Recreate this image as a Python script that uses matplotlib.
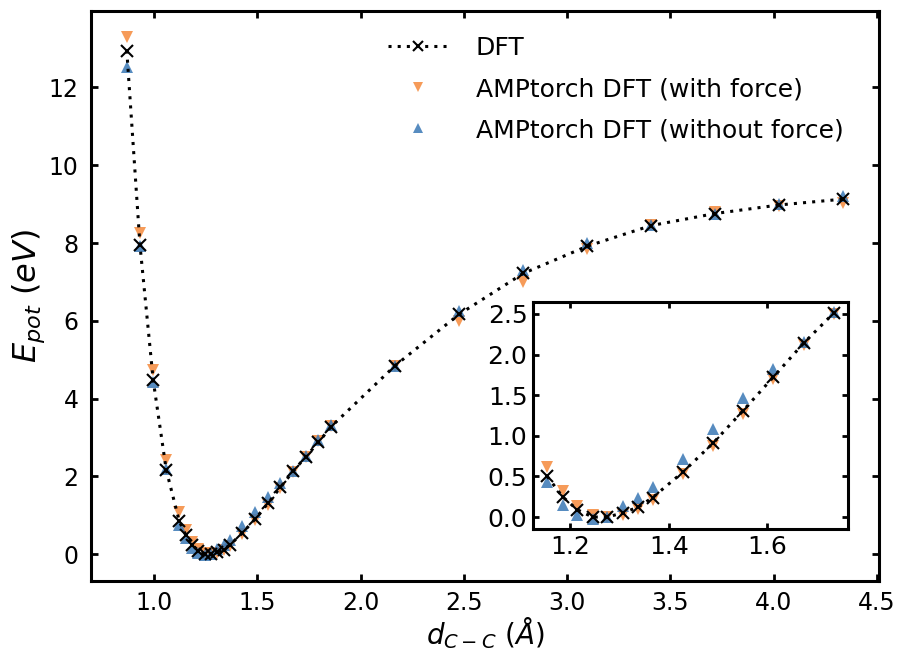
import matplotlib
matplotlib.use("Agg")
import matplotlib.pyplot as plt

plt.rcParams['font.family'] = ['DejaVu Sans']
plt.rcParams['mathtext.fontset'] = 'dejavusans'

# C-C distance (Angstrom) and potential energies (eV)
d_cc = [0.868, 0.932, 0.996, 1.059, 1.122, 1.153, 1.184, 1.214, 1.245, 1.275,
        1.306, 1.337, 1.367, 1.428, 1.490, 1.551, 1.612, 1.674, 1.735, 1.796,
        1.857, 2.167, 2.477, 2.787, 3.097, 3.406, 3.716, 4.026, 4.336]
e_dft = [12.95, 7.94, 4.47, 2.17, 0.85, 0.50, 0.25, 0.09, 0.00, 0.00,
         0.05, 0.12, 0.24, 0.55, 0.91, 1.31, 1.72, 2.14, 2.51, 2.88,
         3.28, 4.85, 6.17, 7.22, 7.92, 8.45, 8.76, 8.98, 9.13]
e_force = [13.30, 8.25, 4.75, 2.42, 1.08, 0.62, 0.32, 0.13, 0.03, 0.00,
           0.03, 0.10, 0.21, 0.53, 0.88, 1.27, 1.70, 2.12, 2.50, 2.92,
           3.30, 4.85, 6.00, 7.00, 7.85, 8.47, 8.80, 8.95, 9.02]
e_noforce = [12.52, 7.92, 4.42, 2.20, 0.75, 0.43, 0.15, 0.03, -0.02, 0.00,
             0.13, 0.23, 0.37, 0.72, 1.08, 1.47, 1.82, 2.15, 2.52, 2.95,
             3.32, 4.85, 6.25, 7.30, 8.00, 8.47, 8.75, 9.00, 9.20]

# points shown in the zoomed inset
inset_idx = slice(5, 19)

main_xticks = [1.0, 1.5, 2.0, 2.5, 3.0, 3.5, 4.0, 4.5]
main_yticks = [0, 2, 4, 6, 8, 10, 12]
inset_xticks = [1.2, 1.4, 1.6]
inset_yticks = [0.0, 0.5, 1.0, 1.5, 2.0, 2.5]

c_force = '#f58a3c'
c_noforce = '#3a78b5'


def draw(ax, x, y0, y1, y2, ms):
    ax.plot(x, y0, linestyle=':', color='black', lw=2.2, marker='x',
            markersize=ms, markeredgewidth=1.5, label='DFT', zorder=4,
            dashes=(1, 2.0))
    ax.plot(x, y1, linestyle='none', marker='v', color=c_force, alpha=0.85,
            markersize=ms, markeredgewidth=0, label='AMPtorch DFT (with force)', zorder=3)
    ax.plot(x, y2, linestyle='none', marker='^', color=c_noforce, alpha=0.85,
            markersize=ms, markeredgewidth=0, label='AMPtorch DFT (without force)', zorder=3)


def style(ax, size, pad, fs):
    for s in ax.spines.values():
        s.set_linewidth(2.2)
    ax.tick_params(which='both', direction='in', top=True, right=True,
                   length=size, width=2, pad=pad, labelsize=fs)


fig = plt.figure(figsize=(8.98, 6.55), dpi=100)
ax = fig.add_axes([0.1013, 0.1130, 0.8775, 0.8702])
draw(ax, d_cc, e_dft, e_force, e_noforce, 9)
ax.set_xticks(main_xticks)
ax.set_yticks(main_yticks)
style(ax, 5, 9, 17)
ax.tick_params(axis='x', pad=7)
ax.set_xlabel(r'$d_{C-C}\ (\AA)$', fontsize=20, labelpad=0)
ax.set_ylabel(r'$E_{pot}\ (eV)$', fontsize=23, labelpad=1)
ax.legend(loc='upper left', bbox_to_anchor=(0.377, 0.956), frameon=False,
          fontsize=18, numpoints=1, markerscale=0.8, labelspacing=0.68,
          handlelength=2.4, handletextpad=1.1, borderpad=0, borderaxespad=0)

axin = fig.add_axes([0.5935, 0.1924, 0.3508, 0.3466])
draw(axin, d_cc[inset_idx], e_dft[inset_idx], e_force[inset_idx],
     e_noforce[inset_idx], 9)
axin.set_xticks(inset_xticks)
axin.set_yticks(inset_yticks)
style(axin, 4, 4, 18)

fig.savefig('out.png', dpi=100)
